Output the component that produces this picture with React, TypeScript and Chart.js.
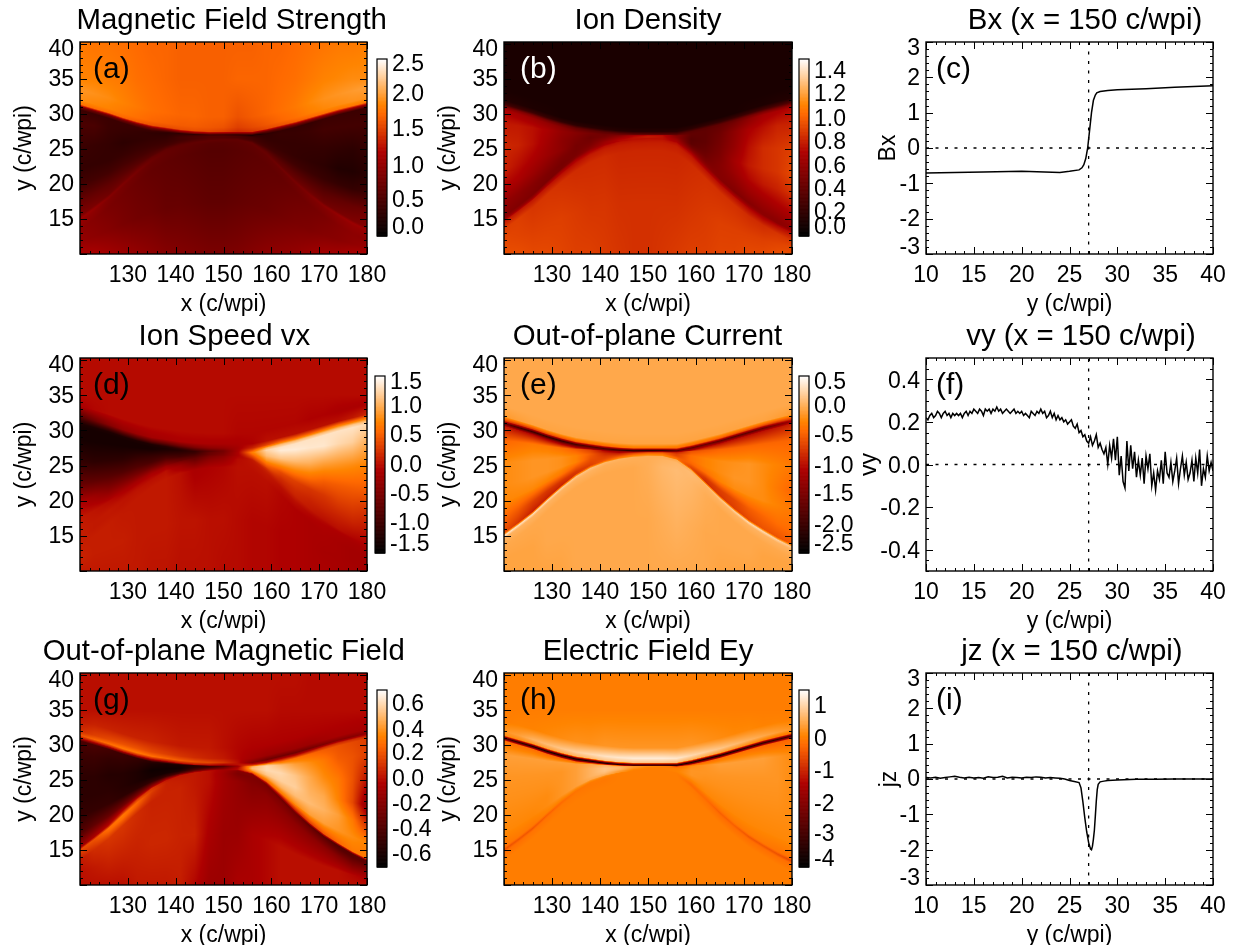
import { useEffect, useRef } from 'react';
import { Chart, registerables } from 'chart.js';
Chart.register(...registerables);

const FONT = '"Liberation Sans", Arial, sans-serif';

// ---- mesh of the 2D maps: columns at these x, rows follow the current sheet and separatrix curves
const meshX = [120,123,126,129,132,135,138,141,144,147,150,153,156,159,162,165,168,171,174,177,180];
const sheetY = [31.0,30.4,29.8,29.1,28.5,28.0,27.7,27.4,27.2,27.1,27.1,27.1,27.1,27.5,28.0,28.5,29.1,29.7,30.3,30.8,31.3];
const sepY = [15.0,16.5,18.1,20.0,21.8,23.4,24.6,25.4,25.9,26.2,26.3,26.3,25.8,24.3,22.3,20.3,18.5,16.9,15.6,14.4,13.4];

// ---- map values, as colour-bar level 0..100 (18 rows from top of the panel to bottom, 21 columns)
const fieldStrength = [
[72,71,71,70,69,68,68,67,67,67,67,67,67,68,68,69,70,71,72,72,73],
[74,74,73,72,70,69,68,67,67,67,67,68,68,68,69,70,72,74,75,76,76],
[78,77,76,74,72,70,69,68,68,67,67,64,66,68,70,72,75,77,78,79,80],
[76,75,74,72,70,68,67,66,66,65,64,60,62,65,68,70,73,75,76,77,77],
[70,70,69,68,66,64,63,63,63,62,60,56,58,62,64,66,68,70,71,72,72],
[30,30,30,30,30,30,30,30,28,26,24,22,22,26,30,32,34,36,38,38,38],
[16,16,16,16,16,16,14,12,12,10,8,3,4,12,14,14,14,16,16,16,16],
[20,20,16,15,14,13,12,14,16,18,18,14,12,13,15,15,16,18,18,18,18],
[16,15,14,12,13,14,14,18,20,22,22,20,17,14,14,14,14,14,13,12,14],
[14,14,14,15,16,16,16,18,20,22,22,20,18,16,15,14,13,12,9,9,11],
[18,18,18,19,19,19,18,20,22,23,23,22,20,18,18,17,16,15,14,14,16],
[28,27,26,25,24,23,24,24,24,24,24,24,24,24,24,24,24,24,26,28,30],
[34,33,30,30,29,27,26,25,25,25,25,25,26,26,26,28,30,30,32,34,36],
[42,40,36,34,32,29,27,26,26,26,26,26,27,28,30,32,34,37,40,42,42],
[40,38,34,32,30,28,27,26,25,24,24,25,26,27,28,30,33,35,38,40,40],
[38,36,33,31,29,27,26,25,24,23,23,24,25,26,27,29,31,33,36,38,38],
[40,38,36,33,31,30,28,28,27,26,26,27,28,29,31,33,34,36,37,39,41],
[46,46,44,42,40,38,36,35,34,33,33,34,36,38,39,40,42,44,44,46,46],
];
const ionDensity = [
[7,7,7,7,7,7,7,7,7,7,7,7,7,7,7,7,7,7,7,7,7],
[7,7,7,7,7,7,7,7,7,7,7,7,7,7,7,7,7,7,7,7,7],
[7,7,7,7,7,7,7,7,7,7,7,7,7,7,7,7,7,7,7,7,7],
[9,9,8,8,7,7,7,7,7,7,7,7,7,7,7,7,7,8,8,9,9],
[18,17,16,15,13,12,11,11,10,10,10,10,11,12,13,14,15,16,18,20,22],
[36,36,34,32,30,27,25,25,26,26,25,24,24,24,24,26,28,32,34,36,38],
[46,44,42,40,37,33,30,28,29,32,34,33,30,26,26,28,32,38,44,46,48],
[52,52,50,46,40,36,32,30,33,42,48,48,36,26,26,30,38,46,50,54,54],
[55,54,50,44,38,34,30,33,40,48,52,50,38,24,26,32,40,50,56,58,60],
[54,50,46,42,38,32,32,38,45,50,52,50,42,25,28,34,44,52,56,58,62],
[48,46,42,38,34,32,34,42,48,50,50,50,44,30,30,36,42,48,52,54,58],
[40,38,36,34,32,33,38,44,48,50,50,50,46,38,34,36,38,42,44,46,48],
[36,35,34,33,33,36,41,46,50,50,51,50,48,42,38,36,35,36,38,38,40],
[40,40,40,42,44,46,47,50,51,51,51,51,50,48,45,44,42,40,38,38,40],
[52,52,52,51,50,50,52,53,53,53,53,53,53,52,51,50,50,48,46,48,50],
[60,60,58,58,57,56,56,56,55,55,55,55,55,56,57,57,57,56,56,58,58],
[62,61,60,60,60,59,58,58,57,57,57,57,57,58,59,60,60,60,60,61,62],
[63,63,62,62,61,60,60,59,58,57,57,58,59,60,60,61,61,62,62,63,63],
];
const ionSpeedVx = [
[49,49,49,49,49,49,49,49,49,49,49,49,49,49,49,49,49,49,49,49,49],
[49,49,49,49,49,49,49,49,49,49,49,49,49,49,49,49,49,49,49,49,49],
[46,48,49,49,49,49,49,49,49,49,49,48,48,48,48,48,47,47,46,46,46],
[24,30,36,40,42,44,45,46,46,46,46,46,47,50,50,50,50,50,50,52,55],
[14,16,18,20,22,24,26,30,34,38,40,44,54,62,68,68,68,70,72,72,74],
[8,8,8,8,8,8,10,14,20,26,32,45,66,84,86,86,86,86,86,88,86],
[6,6,6,6,6,6,7,10,16,24,32,45,70,92,94,94,94,94,94,94,92],
[6,6,6,6,6,6,8,10,14,26,32,45,74,90,96,96,95,95,92,90,84],
[14,12,12,12,14,14,14,14,16,28,33,46,70,86,88,86,84,80,78,76,74],
[28,26,24,22,22,20,22,18,20,28,34,46,64,78,74,72,70,66,66,66,66],
[46,42,36,34,32,30,30,24,23,30,35,46,60,70,62,60,58,58,60,60,58],
[52,51,49,46,44,42,38,28,26,32,36,46,56,62,56,56,54,54,54,54,52],
[53,52,52,50,48,46,42,32,27,33,37,47,54,58,54,54,52,50,50,48,47],
[53,52,52,51,50,48,46,36,28,34,38,47,52,54,52,52,50,48,47,46,46],
[53,52,52,51,51,50,50,42,33,38,41,49,51,52,50,50,48,47,46,45,45],
[53,53,53,52,52,52,52,50,46,47,48,50,50,50,48,47,46,46,45,44,44],
[54,53,53,53,52,52,52,51,51,50,50,49,48,48,47,47,46,45,45,44,44],
[52,52,52,52,52,51,51,50,50,50,49,49,48,48,47,47,46,46,45,45,44],
];
const outOfPlaneCurrent = [
[82,82,82,82,82,82,82,82,82,82,82,82,82,82,82,82,82,82,82,82,82],
[82,82,82,82,82,82,82,82,82,82,82,82,82,82,82,82,82,82,82,82,82],
[82,82,82,82,82,82,82,82,82,82,82,82,82,82,82,82,82,82,82,82,82],
[79,80,81,81,81,81,81,81,81,81,81,81,81,81,81,81,81,81,81,80,79],
[60,58,60,62,64,66,68,68,70,72,72,72,70,68,68,66,64,62,62,60,62],
[27,18,15,14,14,18,22,20,16,10,6,8,22,26,28,26,24,25,28,34,42],
[52,50,48,46,44,44,40,34,28,25,24,30,40,46,50,50,50,50,50,52,54],
[68,70,72,72,70,66,60,48,40,42,48,50,52,64,66,68,68,68,68,68,68],
[76,77,78,78,77,74,66,56,52,60,66,66,60,70,74,76,77,78,76,74,72],
[76,77,78,78,77,74,64,60,60,66,70,70,62,70,74,76,78,78,76,72,68],
[75,75,75,74,72,66,62,62,66,72,76,74,66,68,70,74,76,76,76,74,72],
[68,65,60,58,58,58,60,66,72,76,78,76,70,62,58,60,62,66,68,70,70],
[62,58,54,54,54,58,64,72,76,78,78,78,72,62,56,58,60,62,64,64,66],
[95,94,93,92,90,88,87,85,84,83,83,83,82,84,85,88,90,92,92,90,88],
[84,84,84,84,84,84,84,83,83,83,83,84,85,86,84,84,84,84,84,84,84],
[82,82,82,82,82,82,82,82,82,82,83,85,86,85,83,82,82,82,82,82,82],
[81,81,81,82,82,82,82,82,82,82,82,83,84,83,82,82,82,82,81,81,81],
[81,81,81,81,81,82,82,82,82,82,82,82,82,82,82,81,81,81,81,81,81],
];
const outOfPlaneField = [
[50,50,50,50,50,50,50,50,50,50,50,50,50,50,50,50,49,49,49,49,49],
[50,50,50,50,50,50,50,50,50,50,50,50,50,50,49,49,49,49,49,49,49],
[52,54,54,54,54,54,53,52,52,52,50,48,47,47,47,47,47,47,47,47,47],
[56,60,62,64,64,62,60,58,56,54,52,48,44,42,42,42,42,44,45,45,45],
[64,68,70,72,72,70,68,66,64,62,58,50,36,30,30,30,32,34,36,36,38],
[50,50,52,52,52,50,50,50,50,48,44,50,60,50,50,50,52,56,56,56,55],
[20,20,18,16,14,12,10,10,12,14,20,40,78,84,70,70,68,66,64,62,60],
[16,16,14,14,12,8,6,6,10,14,22,42,84,92,86,80,76,72,66,64,60],
[12,12,10,10,8,4,4,4,12,18,28,46,86,92,92,88,82,76,72,64,50],
[12,12,12,10,8,6,6,8,20,28,34,48,80,88,90,90,84,82,74,62,38],
[14,14,14,12,12,14,16,20,32,38,40,50,72,78,84,86,86,84,80,72,56],
[22,26,28,30,34,40,46,50,50,50,44,44,60,66,72,76,80,80,78,76,74],
[40,46,50,56,60,58,52,52,52,50,44,40,50,52,50,54,60,64,68,72,72],
[62,64,70,72,68,60,54,52,52,50,44,36,36,32,30,30,26,24,22,24,26],
[60,62,68,70,66,58,54,53,52,50,43,34,34,34,34,32,30,28,24,24,26],
[52,56,58,58,56,54,54,54,52,50,44,40,36,38,38,38,38,38,36,34,38],
[50,52,54,54,54,55,55,54,54,46,42,42,46,48,50,50,50,50,50,48,46],
[50,50,50,50,52,52,52,53,48,42,42,46,46,48,50,50,50,50,50,50,50],
];
const electricFieldEy = [
[73,73,73,73,73,73,73,73,73,73,73,73,73,73,73,73,73,73,73,73,73],
[73,73,73,73,73,73,73,73,73,73,73,73,73,73,73,73,73,73,73,73,73],
[73,74,74,75,76,77,77,78,78,78,78,78,78,78,77,76,75,75,74,74,73],
[78,80,84,86,88,90,92,94,95,96,96,96,95,92,90,88,86,84,82,80,78],
[76,76,78,80,82,84,86,88,88,88,88,88,86,84,82,80,78,76,74,72,72],
[18,12,8,6,5,4,4,4,6,6,6,6,3,6,6,6,8,10,12,14,16],
[70,70,70,68,68,68,66,64,62,60,60,58,50,64,68,70,70,70,68,68,68],
[80,80,80,80,80,80,82,84,82,78,76,74,68,76,78,80,80,80,80,78,76],
[78,78,78,78,78,80,84,88,86,78,74,73,73,78,78,78,78,78,78,78,76],
[77,77,77,77,78,80,84,88,84,76,73,73,74,78,77,77,77,77,77,77,76],
[76,76,76,76,78,80,84,86,80,74,73,73,74,76,76,76,76,76,76,76,76],
[75,75,75,76,78,80,82,82,78,73,73,73,73,73,75,75,75,75,75,75,75],
[71,72,72,74,74,76,77,77,74,73,73,73,73,71,71,71,72,72,72,71,71],
[64,65,65,67,69,71,72,73,73,73,73,73,73,69,69,67,67,65,65,64,62],
[70,70,71,71,72,72,72,72,73,73,73,73,73,72,71,70,70,70,70,70,70],
[73,73,73,73,73,73,73,73,73,73,73,73,73,73,73,73,73,73,73,73,73],
[73,73,73,73,73,73,73,73,73,73,73,73,73,73,73,73,73,73,73,73,73],
[73,73,73,73,73,73,73,73,73,73,73,73,73,73,73,73,73,73,73,73,73],
];

// ---- line cuts at x = 150
const bxY = [10,13,16,20,24,25,26,26.3,26.5,26.7,26.9,27.1,27.3,27.5,27.7,27.85,28.2,29,30,33,36,40];
const bxValues = [-0.71,-0.69,-0.68,-0.66,-0.69,-0.66,-0.62,-0.56,-0.47,-0.3,0,0.5,1.0,1.35,1.5,1.56,1.6,1.63,1.65,1.68,1.72,1.76];

const vyStart = 10;
const vyStep = 0.2;
const vyValues = [
0.22,0.21,0.23,0.24,0.22,0.23,0.25,0.24,0.22,0.24,
0.25,0.23,0.24,0.22,0.24,0.23,0.24,0.23,0.24,0.22,
0.24,0.25,0.23,0.25,0.24,0.26,0.25,0.24,0.26,0.25,
0.23,0.26,0.25,0.26,0.24,0.26,0.25,0.27,0.25,0.26,
0.24,0.25,0.26,0.25,0.24,0.25,0.26,0.24,0.25,0.24,
0.25,0.23,0.24,0.23,0.22,0.25,0.24,0.23,0.25,0.24,
0.26,0.24,0.25,0.22,0.23,0.25,0.22,0.24,0.21,0.23,
0.21,0.22,0.20,0.21,0.19,0.20,0.21,0.18,0.17,0.19,
0.15,0.16,0.13,0.14,0.11,0.10,0.13,0.09,0.11,0.14,
0.08,0.10,0.07,0.05,0.08,0.00,0.09,0.03,0.12,0.02,
0.13,-0.05,0.04,-0.08,-0.11,0.11,-0.03,0.09,-0.02,0.06,
-0.06,0.02,-0.05,0.03,-0.09,0.04,-0.02,0.05,-0.10,-0.04,
-0.12,-0.03,-0.07,0.02,-0.09,0.06,-0.04,-0.06,0.01,-0.08,
-0.03,0.03,-0.09,-0.02,0.04,-0.05,0.01,-0.07,-0.04,0.02,
-0.08,0.03,-0.04,0.07,-0.10,-0.02,-0.06,0.04,-0.03,0.01,
-0.03];

const jzY = [10,10.5,11,11.5,12,12.5,13,13.5,14,14.5,15,15.5,16,16.5,17,17.5,18,18.5,19,19.5,20,20.5,21,21.5,22,22.5,23,23.5,24,24.5,25,25.5,26,26.2,26.4,26.6,26.8,27,27.2,27.3,27.4,27.5,27.6,27.7,27.8,27.9,28,28.2,28.6,29,30,32,34,36,38,40];
const jzValues = [0.04,0.03,0.05,0.02,0.04,0.06,0.08,0.05,0.03,0.05,0.03,0.04,0.02,0.06,0.04,0.05,0.08,0.03,0.05,0.04,0.03,0.05,0.04,0.06,0.05,0.03,0.04,0.03,0.02,0,-0.04,-0.07,-0.1,-0.25,-0.65,-1.1,-1.5,-1.8,-1.98,-2,-1.9,-1.7,-1.45,-1.05,-0.63,-0.3,-0.15,-0.08,-0.06,-0.04,-0.03,-0.01,-0.01,0,0,0];

// ---- axis tick labels
const mapXTicks = [130,140,150,160,170,180];
const mapYTicks = [15,20,25,30,35,40];
const cutXTicks = [10,15,20,25,30,35,40];
const bxTicks = [-3,-2,-1,0,1,2,3];
const vyTicks = [-0.4,-0.2,0,0.2,0.4];

// ---- colour bars: label text and the level at which it sits
const barA = { labels: ['2.5','2.0','1.5','1.0','0.5','0.0'], at: [96.8,80,60.2,39.4,20.2,4.5] };
const barB = { labels: ['1.4','1.2','1.0','0.8','0.6','0.4','0.2','0.0'], at: [92.9,80,65.8,52.8,39.4,26.3,13.3,4.5] };
const barD = { labels: ['1.5','1.0','0.5','0.0','-0.5','-1.0','-1.5'], at: [96,82.5,66.1,49.2,32.8,16.4,4.5] };
const barE = { labels: ['0.5','0.0','-0.5','-1.0','-1.5','-2.0','-2.5'], at: [96,82.5,66.1,48.6,32.8,15.3,4.5] };
const barG = { labels: ['0.6','0.4','0.2','0.0','-0.2','-0.4','-0.6'], at: [91.6,77.3,63.8,49.2,35.2,21.2,7.1] };
const barH = { labels: ['1','0','-1','-2','-3','-4'], at: [90.6,72,54,35,18,4.3] };

// ---- layout
const COLS = [[80,367],[504,792],[926,1213]];
const ROWS = [[42,254],[358,571],[673,885]];
const PAD_L = 75, PAD_R = 60, TITLE_H = 36, BOTTOM_H = 62;

type Panel = {
  col: number; row: number; title: string; titleX: number; tag: string; tagX: number; tagColor?: string;
  grid?: number[][]; bar?: { labels: string[]; at: number[] }; barX?: number;
  cut?: { xs: number[]; ys: number[]; name: string; yMin: number; yMax: number; ticks: number[]; yMajor: number; yMinor: number; titleOff: number; fmt: (v: number) => string; shift: (v: number) => number };
};

const panels: Panel[] = [
  { col:0,row:0,title:'Magnetic Field Strength',titleX:231.7,tag:'(a)',tagX:13,grid:fieldStrength,bar:barA,barX:377 },
  { col:1,row:0,title:'Ion Density',titleX:648,tag:'(b)',tagX:16,tagColor:'#fff',grid:ionDensity,bar:barB,barX:799 },
  { col:2,row:0,title:'Bx (x = 150 c/wpi)',titleX:1085,tag:'(c)',tagX:10,cut:{ xs:bxY,ys:bxValues,name:'Bx',yMin:-3,yMax:3,ticks:bxTicks,yMajor:1,yMinor:0.2,titleOff:37,fmt:v=>String(v),shift:v=>v===3?7:v===-3?-6:1 } },
  { col:0,row:1,title:'Ion Speed vx',titleX:224.3,tag:'(d)',tagX:13,grid:ionSpeedVx,bar:barD,barX:375 },
  { col:1,row:1,title:'Out-of-plane Current',titleX:647.5,tag:'(e)',tagX:16,grid:outOfPlaneCurrent,bar:barE,barX:799 },
  { col:2,row:1,title:'vy (x = 150 c/wpi)',titleX:1081,tag:'(f)',tagX:10,cut:{ xs:vyValues.map((_,i)=>vyStart+i*vyStep),ys:vyValues,name:'vy',yMin:-0.5,yMax:0.5,ticks:vyTicks,yMajor:0.2,yMinor:0.05,titleOff:56,fmt:v=>v.toFixed(1),shift:()=>2 } },
  { col:0,row:2,title:'Out-of-plane Magnetic Field',titleX:223.7,tag:'(g)',tagX:13,grid:outOfPlaneField,bar:barG,barX:377 },
  { col:1,row:2,title:'Electric Field Ey',titleX:648,tag:'(h)',tagX:16,grid:electricFieldEy,bar:barH,barX:799 },
  { col:2,row:2,title:'jz (x = 150 c/wpi)',titleX:1072,tag:'(i)',tagX:10,cut:{ xs:jzY,ys:jzValues,name:'jz',yMin:-3,yMax:3,ticks:bxTicks,yMajor:1,yMinor:0.2,titleOff:36,fmt:v=>String(v),shift:v=>v===3?7:v===-3?-6:1 } },
];

function levelRGB(level: number): number[] {
  const t = Math.max(0, Math.min(1, level / 100));
  return [255 * Math.min(1, t / 0.69), 255 * Math.max(0, (t - 0.47) / 0.53), 255 * Math.max(0, (t - 0.745) / 0.255)];
}

function rowNodes(j: number): number[] {
  const b = sheetY[j], s = sepY[j], gap = b - s, e = Math.min(0.4, 0.1 * gap), low = s - 1.5;
  return [40.3,35,b+2.5,b+1,b+0.4,b,b-e,b-0.15*gap,b-0.35*gap,b-0.55*gap,b-0.7*gap,b-0.85*gap,s+e,s,s-0.4,low,(low+10)/2,10];
}

function heatPlugin(grid: number[][]) {
  const nodes = meshX.map((_, j) => rowNodes(j));
  return {
    id: 'heat',
    beforeDatasetsDraw(chart: any) {
      const { left, top, right, bottom } = chart.chartArea;
      const xs = chart.scales.x, ys = chart.scales.y, ctx = chart.ctx;
      const w = Math.round(right - left), h = Math.round(bottom - top);
      const img = ctx.createImageData(w, h);
      for (let px = 0; px < w; px++) {
        const xv = xs.getValueForPixel(left + px + 0.5);
        let j = 0;
        while (j < meshX.length - 2 && xv > meshX[j + 1]) j++;
        const t = Math.max(0, Math.min(1, (xv - meshX[j]) / (meshX[j + 1] - meshX[j])));
        const yN = nodes[j].map((v, i) => v * (1 - t) + nodes[j + 1][i] * t);
        const lN = grid.map(r => r[j] * (1 - t) + r[j + 1] * t);
        for (let py = 0; py < h; py++) {
          const yv = ys.getValueForPixel(top + py + 0.5);
          let i = 0;
          while (i < yN.length - 2 && yv < yN[i + 1]) i++;
          const u = Math.max(0, Math.min(1, (yN[i] - yv) / (yN[i] - yN[i + 1])));
          const [r, g, b] = levelRGB(lN[i] * (1 - u) + lN[i + 1] * u);
          const k = (py * w + px) * 4;
          img.data[k] = r; img.data[k + 1] = g; img.data[k + 2] = b; img.data[k + 3] = 255;
        }
      }
      ctx.putImageData(img, Math.round(left), Math.round(top));
    },
  };
}

function between(min: number, max: number, step: number): number[] {
  const out: number[] = [];
  const n = Math.round((max - min) / step);
  for (let i = 0; i <= n; i++) out.push(min + i * step);
  return out;
}

function framePlugin(p: Panel, xMajor: number[], xMinor: number[], yMajor: number[], yMinor: number[], shift: (v: number) => number) {
  return {
    id: 'frame',
    afterLayout(chart: any) {
      const tb = chart.titleBlock;
      if (tb) {
        const dx = p.titleX - (COLS[p.col][0] - PAD_L) - (tb.left + tb.right) / 2;
        tb.left += dx; tb.right += dx;
      }
    },
    beforeDraw(chart: any) {
      const ys = chart.scales.y;
      ys.getLabelItems().forEach((it: any, i: number) => { it.options.translation[1] += shift(ys.ticks[i].value); });
    },
    afterDatasetsDraw(chart: any) {
      const { left, top, right, bottom } = chart.chartArea;
      const { x, y } = chart.scales, ctx = chart.ctx;
      ctx.save();
      ctx.strokeStyle = '#000'; ctx.lineWidth = 1; ctx.beginPath();
      const vt = (v: number, len: number) => { const q = Math.round(x.getPixelForValue(v)) + 0.5; ctx.moveTo(q, bottom); ctx.lineTo(q, bottom - len); ctx.moveTo(q, top); ctx.lineTo(q, top + len); };
      const ht = (v: number, len: number) => { const q = Math.round(y.getPixelForValue(v)) + 0.5; ctx.moveTo(left, q); ctx.lineTo(left + len, q); ctx.moveTo(right, q); ctx.lineTo(right - len, q); };
      xMinor.forEach(v => vt(v, 3)); xMajor.forEach(v => vt(v, 7));
      yMinor.forEach(v => ht(v, 3)); yMajor.forEach(v => ht(v, 7));
      ctx.stroke();
      ctx.lineWidth = 1.4; ctx.strokeRect(left, top, right - left, bottom - top);
      ctx.fillStyle = p.tagColor || '#000';
      ctx.font = `30px ${FONT}`; ctx.textAlign = 'left'; ctx.textBaseline = 'middle';
      ctx.fillText(p.tag, left + p.tagX, top + 28);
      ctx.restore();
    },
  };
}

function panelChart(canvas: HTMLCanvasElement, p: Panel) {
  const cut = p.cut;
  const plotW = COLS[p.col][1] - COLS[p.col][0], plotH = ROWS[p.row][1] - ROWS[p.row][0];
  canvas.width = PAD_L + plotW + PAD_R; canvas.height = TITLE_H + plotH + BOTTOM_H;
  const xMin = cut ? 10 : 120, xMax = cut ? 40 : 180, yMin = cut ? cut.yMin : 10, yMax = cut ? cut.yMax : 40.3;
  const xLabels = cut ? cutXTicks : mapXTicks, yLabels = cut ? cut.ticks : mapYTicks;
  const xMajor = cut ? between(10, 40, 5) : between(120, 180, 10);
  const xMinor = cut ? between(10, 40, 1) : between(120, 180, 2);
  const yMajor = cut ? cut.ticks : between(10, 40, 5);
  const yMinor = cut ? between(cut.yMin, cut.yMax, cut.yMinor) : between(10, 40, 1);
  const yOff = cut ? cut.titleOff : 55;
  const shift = cut ? cut.shift : (v: number) => (v === 40 ? 6 : 1);
  const datasets: any[] = cut ? [
    { label: 'zero', data: [{ x: 10, y: 0 }, { x: 40, y: 0 }], showLine: true, pointRadius: 0, borderColor: '#000', borderWidth: 1.3, borderDash: [3, 6.5] },
    { label: 'sheet', data: [{ x: 27, y: cut.yMin }, { x: 27, y: cut.yMax }], showLine: true, pointRadius: 0, borderColor: '#000', borderWidth: 1.3, borderDash: [3, 6.5] },
    { label: cut.name, data: cut.xs.map((v, i) => ({ x: v, y: cut.ys[i] })), showLine: true, pointRadius: 0, borderColor: '#000', borderWidth: 1.5 },
  ] : [{ label: p.title, data: [], pointRadius: 0 }];
  const plugins: any[] = [framePlugin(p, xMajor, xMinor, yMajor, yMinor, shift)];
  if (p.grid) plugins.unshift(heatPlugin(p.grid));
  return new Chart(canvas, {
    type: 'scatter',
    data: { datasets },
    plugins,
    options: {
      responsive: false, animation: false, devicePixelRatio: 1,
      layout: { padding: { left: 0, right: PAD_R, top: 0, bottom: 0 } },
      plugins: {
        legend: { display: false }, tooltip: { enabled: false },
        title: { display: true, text: p.title, color: '#000', font: { family: FONT, size: 29.4, weight: 'normal', lineHeight: 1 }, padding: { top: 0, bottom: 6.6 } },
      },
      scales: {
        x: {
          type: 'linear', min: xMin, max: xMax,
          grid: { display: false, drawTicks: false }, border: { display: false },
          afterBuildTicks: (s: any) => { s.ticks = xLabels.map(v => ({ value: v })); },
          afterFit: (s: any) => { s.height = BOTTOM_H; },
          ticks: { autoSkip: false, maxRotation: 0, minRotation: 0, padding: 10, color: '#000', font: { family: FONT, size: 23, lineHeight: 1 }, callback: (v: any) => String(v) },
          title: { display: true, text: cut ? 'y (c/wpi)' : 'x (c/wpi)', color: '#000', font: { family: FONT, size: 23, lineHeight: 1 }, padding: { top: 2.5, bottom: 0 } },
        },
        y: {
          type: 'linear', min: yMin, max: yMax,
          grid: { display: false, drawTicks: false }, border: { display: false },
          afterBuildTicks: (s: any) => { s.ticks = yLabels.map(v => ({ value: v })); },
          afterFit: (s: any) => { s.width = PAD_L; },
          ticks: { autoSkip: false, padding: 6, color: '#000', font: { family: FONT, size: 23, lineHeight: 1 }, callback: (v: any) => (cut ? cut.fmt(v) : String(v)) },
          title: { display: true, text: cut ? cut.name : 'y (c/wpi)', color: '#000', font: { family: FONT, size: 23, lineHeight: 1 }, padding: { top: PAD_L - yOff - 11.5, bottom: 0 } },
        },
      },
    } as any,
  });
}

function barChart(canvas: HTMLCanvasElement, bar: { labels: string[]; at: number[] }, h: number) {
  canvas.width = 75; canvas.height = h + 40;
  return new Chart(canvas, {
    type: 'scatter',
    data: { datasets: [{ label: 'bar', data: [], pointRadius: 0 }] },
    plugins: [{
      id: 'barFill',
      beforeDatasetsDraw(chart: any) {
        const { left, right, top, bottom } = chart.chartArea;
        const y = chart.scales.y, ctx = chart.ctx;
        for (let l = 0; l < 100; l += 0.25) {
          const [r, g, b] = levelRGB(l);
          ctx.fillStyle = `rgb(${r | 0},${g | 0},${b | 0})`;
          const p1 = y.getPixelForValue(l + 0.25), p0 = y.getPixelForValue(l);
          ctx.fillRect(left, p1, right - left, p0 - p1 + 0.6);
        }
        ctx.strokeStyle = '#000'; ctx.lineWidth = 1.2;
        ctx.strokeRect(left, top, right - left, bottom - top);
      },
    }],
    options: {
      responsive: false, animation: false, devicePixelRatio: 1,
      layout: { padding: { left: 2, right: 0, top: 20, bottom: 20 } },
      plugins: { legend: { display: false }, tooltip: { enabled: false }, title: { display: false } },
      scales: {
        x: { type: 'linear', display: false, min: 0, max: 1 },
        y: {
          type: 'linear', position: 'right', min: 0, max: 100,
          grid: { display: false, drawTicks: false }, border: { display: false },
          afterBuildTicks: (s: any) => { s.ticks = bar.at.map(v => ({ value: v })); },
          afterFit: (s: any) => { s.width = 63; },
          ticks: { autoSkip: false, padding: 5, color: '#000', font: { family: FONT, size: 23, lineHeight: 1 }, callback: (_: any, i: number) => bar.labels[i] },
        },
      },
    } as any,
  });
}

export default function App() {
  const panelRefs = useRef<(HTMLCanvasElement | null)[]>([]);
  const barRefs = useRef<(HTMLCanvasElement | null)[]>([]);
  useEffect(() => {
    const charts: Chart[] = [];
    panels.forEach((p, i) => {
      charts.push(panelChart(panelRefs.current[i]!, p));
      if (p.bar) charts.push(barChart(barRefs.current[i]!, p.bar, 177));
    });
    return () => charts.forEach(c => c.destroy());
  }, []);
  const rowBarTop = [59, 376, 690];
  return (
    <div style={{ position: 'absolute', left: 0, top: 0, width: 1235, height: 945, overflow: 'hidden', background: '#fff' }}>
      {panels.map((p, i) => (
        <canvas key={'p' + i} ref={el => { panelRefs.current[i] = el; }}
          style={{ position: 'absolute', left: COLS[p.col][0] - PAD_L, top: ROWS[p.row][0] - TITLE_H }} />
      ))}
      {panels.map((p, i) => p.bar ? (
        <canvas key={'b' + i} ref={el => { barRefs.current[i] = el; }}
          style={{ position: 'absolute', left: (p.barX as number) - 2, top: rowBarTop[p.row] - 20 }} />
      ) : null)}
    </div>
  );
}
